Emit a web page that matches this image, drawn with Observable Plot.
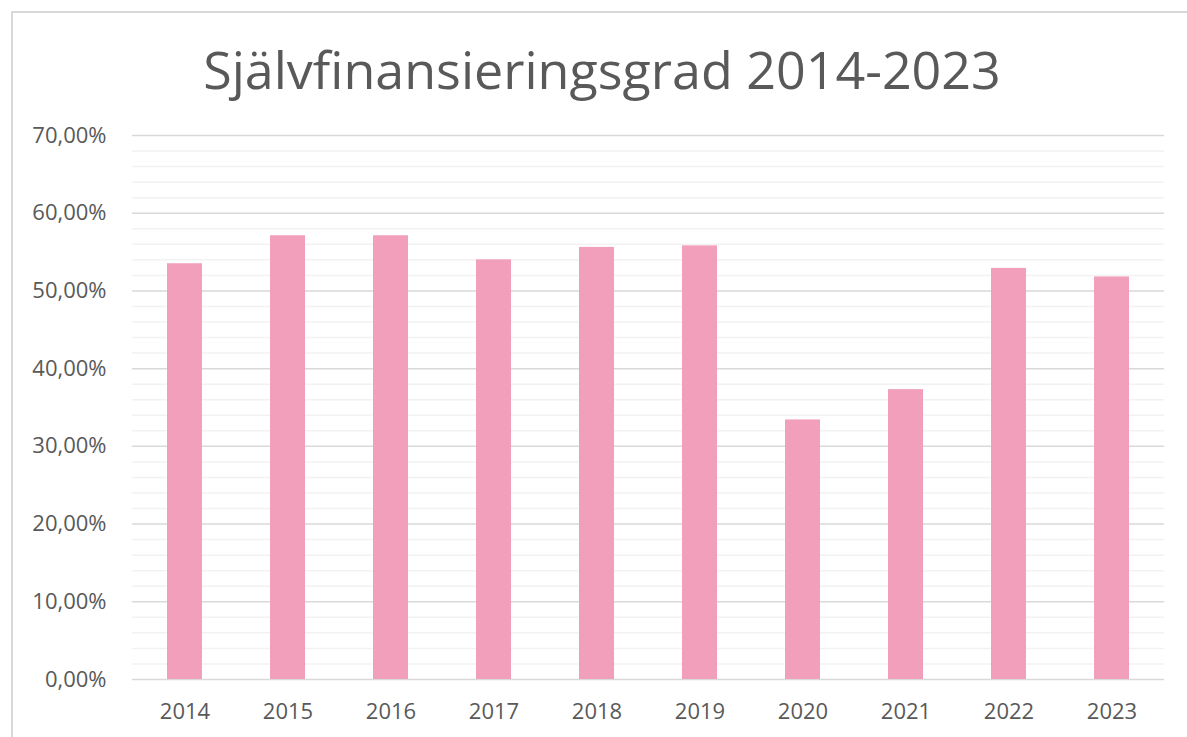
<!DOCTYPE html>
<html>
<head>
<meta charset="utf-8">
<script src="https://cdn.jsdelivr.net/npm/d3@7"></script>
<script src="https://cdn.jsdelivr.net/npm/@observablehq/plot@0.6"></script>
<style>
html, body { margin: 0; padding: 0; overflow: hidden; background: #fff; font-family: "Open Sans", sans-serif; }
#page { position: relative; width: 1187px; height: 737px; overflow: hidden; }
#frame { position: absolute; left: 11px; top: 11px; width: 1220px; height: 780px; border: 2px solid #d9d9d9; box-sizing: border-box; }
#title { position: absolute; left: 0; top: 33px; width: 1204px; text-align: center; font-size: 52px; color: #595959; white-space: nowrap; }
#chart { position: absolute; left: 0; top: 120px; }
</style>
</head>
<body>
<div id="page">
  <div id="frame"></div>
  <div id="title">Självfinansieringsgrad 2014-2023</div>
  <div id="chart"></div>
</div>
<script>
const years = ["2014", "2015", "2016", "2017", "2018", "2019", "2020", "2021", "2022", "2023"];
const values = [53.5, 57.1, 57.1, 54.0, 55.6, 55.8, 33.4, 37.3, 52.9, 51.8];
const majorTicks = [0, 10, 20, 30, 40, 50, 60, 70];
const minorTicks = [2, 4, 6, 8, 12, 14, 16, 18, 22, 24, 26, 28, 32, 34, 36, 38, 42, 44, 46, 48, 52, 54, 56, 58, 62, 64, 66, 68];

const data = years.map((year, i) => ({year, value: values[i]}));
const fmt = d => d.toFixed(2).replace(".", ",") + "%";

const chart = Plot.plot({
  width: 1187,
  height: 617,
  marginLeft: 132,
  marginRight: 23,
  marginTop: 15,
  marginBottom: 58,
  style: { fontFamily: "Open Sans", fontSize: "22px", color: "#595959", background: "transparent" },
  x: { domain: years, paddingInner: 0.665, paddingOuter: 0.3325, label: null },
  y: { domain: [0, 70], label: null },
  marks: [
    Plot.ruleY(minorTicks, { stroke: "#f2f2f2", strokeWidth: 1.5 }),
    Plot.ruleY(majorTicks, { stroke: "#d9d9d9", strokeWidth: 1.5 }),
    Plot.barY(data, { x: "year", y: "value", fill: "#f29fbb" }),
    Plot.axisY({ ticks: majorTicks, tickSize: 0, tickPadding: 26, tickFormat: fmt, fill: "#595959", label: null }),
    Plot.axisX({ tickSize: 0, tickPadding: 24, fill: "#595959", label: null })
  ]
});
document.getElementById("chart").appendChild(chart);
</script>
</body>
</html>
